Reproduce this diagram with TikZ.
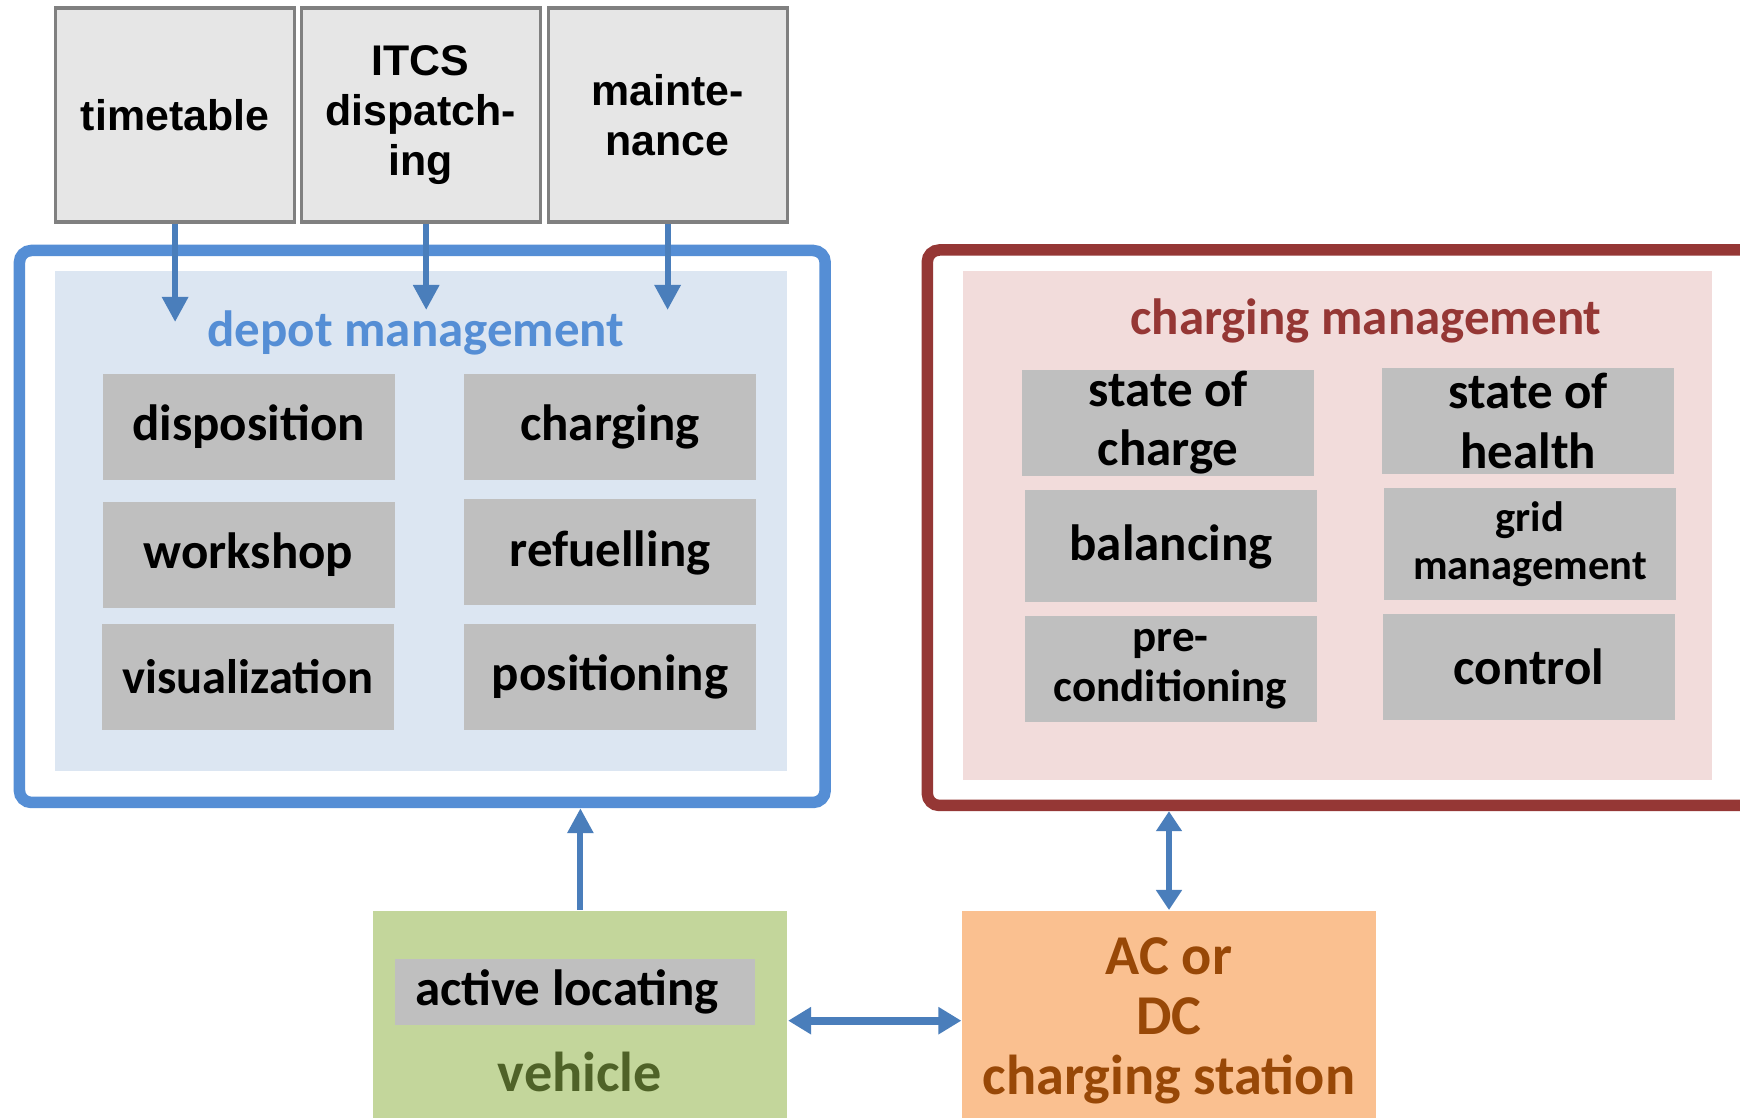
\documentclass[tikz,border=0pt]{standalone}
\usepackage{fontspec}
\setmainfont{Carlito}
\newfontfamily\arialfont{Liberation Sans}
\usepackage{tikz}
\usetikzlibrary{arrows.meta}

\definecolor{topgrey}{HTML}{E6E6E6}
\definecolor{topborder}{HTML}{808080}
\definecolor{boxgrey}{HTML}{BFBFBF}
\definecolor{depotblue}{HTML}{558ED5}
\definecolor{depotfill}{HTML}{DCE6F2}
\definecolor{arrowblue}{HTML}{4A7EBB}
\definecolor{chargered}{HTML}{953735}
\definecolor{chargefill}{HTML}{F2DCDB}
\definecolor{vehgreen}{HTML}{C3D69B}
\definecolor{vehtext}{HTML}{4F6228}
\definecolor{stationorange}{HTML}{FAC090}
\definecolor{stationtext}{HTML}{984807}

\begin{document}
\begin{tikzpicture}[
      topbox/.style={draw=topborder, line width=0.9pt, fill=topgrey, minimum width=2.39cm,
        minimum height=2.14cm, align=center, inner sep=0pt,
        font=\arialfont\bfseries\fontsize{12.2}{14.2}\selectfont},
      greybox/.style={fill=boxgrey, minimum width=2.92cm, minimum height=1.06cm,
        align=center, inner sep=0pt, font=\bfseries\fontsize{14.5}{16.8}\selectfont},
      frame/.style={rounded corners=0.12cm, line width=0.115cm},
      area/.style={inner sep=0pt},
      title/.style={anchor=base, font=\bfseries\fontsize{14.5}{16.8}\selectfont},
      flow/.style={draw=arrowblue, line width=0.06cm, -{Triangle[width=0.25cm,length=0.25cm]}},
      flowboth/.style={draw=arrowblue, line width=0.06cm,
        {Triangle[width=0.25cm,length=0.2cm]}-{Triangle[width=0.25cm,length=0.2cm]}},
      bigboth/.style={draw=arrowblue, line width=0.08cm,
        {Triangle[width=0.26cm,length=0.23cm]}-{Triangle[width=0.26cm,length=0.23cm]}},
      scale=1
    ]

    % page
    \path[fill=white, use as bounding box] (0,0) rectangle (17.4,11.18);
    \clip (0,0) rectangle (17.4,11.18);

    % input boxes on top
    \node[topbox] (timetable) at (1.751,10.03) {timetable};
    \node[topbox] (itcs) at (4.207,10.03) {ITCS\\dispatch-\\ing};
    \node[topbox] (maint) at (6.676,10.03) {mainte-\\nance};

    % depot management
    \node[frame, draw=depotblue, minimum width=8.058cm, minimum height=5.52cm] (depot) at (4.223,5.915) {};
    \node[area, fill=depotfill, minimum width=7.315cm, minimum height=4.997cm] (depotarea) at (4.2125,5.9715) {};
    \node[title, text=depotblue] (depottitle) at (4.16,7.713) {depot management};
    \foreach \name/\x/\y/\txt in {disp/2.485/6.91/disposition, charg/6.1/6.91/charging,
        work/2.485/5.63/workshop, refuel/6.1/5.655/refuelling,
        posit/6.1/4.406/positioning} {
      \node[greybox] (\name) at (\x,\y) {\txt};
    }
    \node[greybox, font=\bfseries\fontsize{13.8}{16}\selectfont] (visual) at (2.48,4.41) {visualization};

    % charging management
    \node[frame, draw=chargered, minimum width=8.327cm, minimum height=5.555cm] (charge) at (13.4365,5.9025) {};
    \node[area, fill=chargefill, minimum width=7.483cm, minimum height=5.09cm] (chargearea) at (13.3735,5.926) {};
    \node[title, text=chargered] (chargetitle) at (13.66,7.832) {charging management};
    \node[greybox] (soc) at (11.681,6.952) {state of\\charge};
    \node[greybox] (soh) at (15.283,6.97) {state of\\health};
    \node[greybox, minimum height=1.12cm] (balance) at (11.71,5.715) {balancing};
    \node[greybox, minimum height=1.12cm, font=\bfseries\fontsize{12.1}{13.7}\selectfont] (grid) at (15.3,5.736) {grid\\management};
    \node[greybox, font=\bfseries\fontsize{12.8}{14.2}\selectfont] (precond) at (11.705,4.492) {pre-\\conditioning};
    \node[greybox] (control) at (15.29,4.511) {control};

    % vehicle and charging station
    \node[area, fill=vehgreen, minimum width=4.14cm, minimum height=2.2cm, anchor=north] (vehicle) at (5.804,2.08) {};
    \node[greybox, minimum width=3.603cm, minimum height=0.66cm, inner xsep=0.2cm, text width=3.2cm,
      align=flush left] (locating) at (5.75,1.26) {active locating};
    \node[title, text=vehtext, font=\bfseries\fontsize{16}{19}\selectfont] (vehlabel) at (5.8,0.263) {vehicle};
    \node[area, fill=stationorange, minimum width=4.139cm, minimum height=2.2cm, anchor=north,
      align=center, text=stationtext, font=\bfseries\fontsize{16}{17}\selectfont] (station) at (11.69,2.08)
      {AC or\\DC\\charging station};

    % arrows
    \coordinate (ttend) at (1.751,7.96);
    \coordinate (itcsend) at (4.262,8.08);
    \coordinate (maintend) at (6.676,8.08);
    \draw[flow] (timetable.south) -- (ttend);
    \draw[flow] (itcsend |- itcs.south) -- (itcsend);
    \draw[flow] (maint.south) -- (maintend);
    \draw[flow] (vehicle.north) -- (vehicle.north |- depot.south);
    \draw[flowboth] (station.north) -- (station.north |- charge.south);
    \draw[bigboth] (vehicle) -- (station);
  \end{tikzpicture}
\end{document}
